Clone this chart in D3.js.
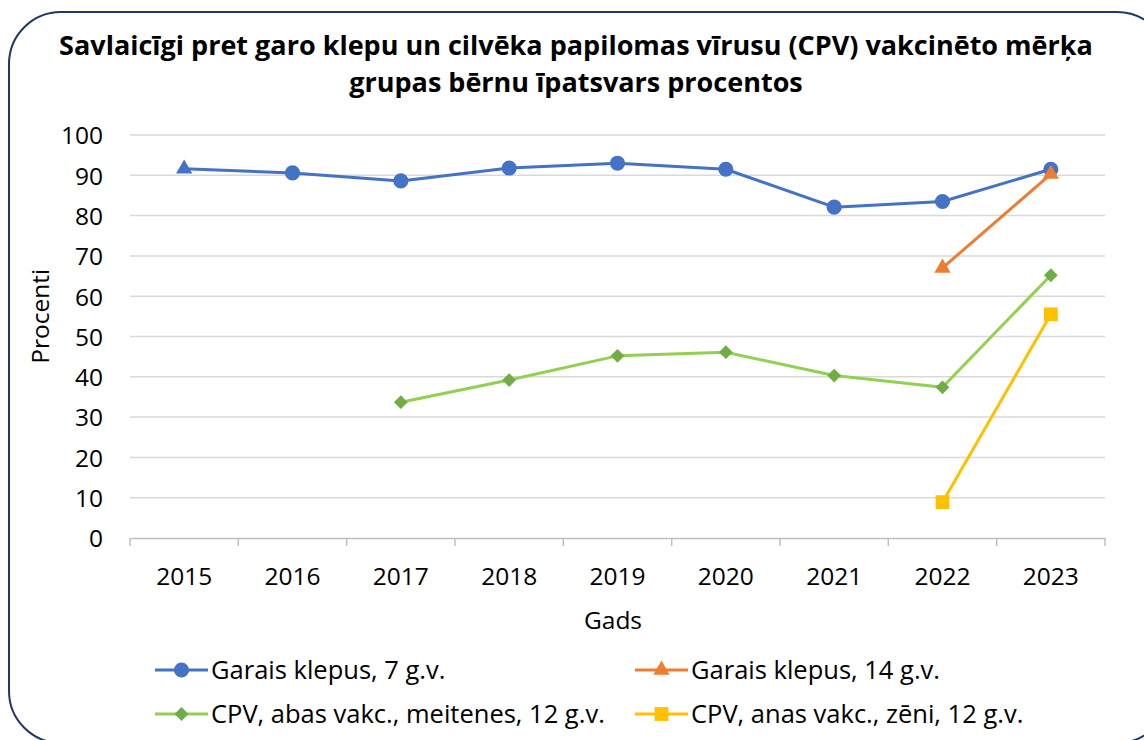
<!DOCTYPE html>
<html>
<head>
<meta charset="utf-8">
<script src="https://cdn.jsdelivr.net/npm/d3@7"></script>
<style>
  body { margin: 0; background: #fff; }
  svg { display: block; font-family: "Open Sans", "Noto Sans", sans-serif; }
</style>
</head>
<body>
<svg id="chart" width="1144" height="740"></svg>
<script>
// chart data
var years = ["2015", "2016", "2017", "2018", "2019", "2020", "2021", "2022", "2023"];
var yTicks = [0, 10, 20, 30, 40, 50, 60, 70, 80, 90, 100];
var garais7 = [91.6, 90.6, 88.6, 91.8, 93.0, 91.5, 82.1, 83.5, 91.5];
var garais14 = [null, null, null, null, null, null, null, 67.0, 90.3];
var cpvMeitenes = [null, null, 33.7, 39.2, 45.2, 46.1, 40.3, 37.4, 65.2];
var cpvZeni = [null, null, null, null, null, null, null, 8.9, 55.5];
var seriesNames = ["Garais klepus, 7 g.v.", "Garais klepus, 14 g.v.",
                   "CPV, abas vakc., meitenes, 12 g.v.", "CPV, anas vakc., zēni, 12 g.v."];

var series = [
  {name: seriesNames[0], values: garais7, line: "#4472C4", fill: "#4472C4", marker: "circle"},
  {name: seriesNames[1], values: garais14, line: "#ED7D31", fill: "#ED7D31", marker: "triangle"},
  {name: seriesNames[2], values: cpvMeitenes, line: "#92D050", fill: "#70AD47", marker: "diamond"},
  {name: seriesNames[3], values: cpvZeni, line: "#FFC000", fill: "#FFC000", marker: "square"}
];
// the first blue point is drawn with a triangle in the original
var markerOverride = {"0-0": "triangle"};

var svg = d3.select("#chart");
var margin = {left: 130, right: 39, top: 135, bottom: 202};
var W = 1144, H = 740;

// frame
svg.append("rect")
  .attr("x", 9).attr("y", 12)
  .attr("width", 1160).attr("height", 731)
  .attr("rx", 52).attr("ry", 52)
  .attr("fill", "none").attr("stroke", "#1F3864").attr("stroke-width", 2);

// title
var title = svg.append("text")
  .attr("text-anchor", "middle")
  .attr("font-weight", "bold")
  .attr("fill", "#000")
  .attr("font-size", 27);
title.append("tspan").attr("x", 576).attr("y", 55)
  .text("Savlaicīgi pret garo klepu un cilvēka papilomas vīrusu (CPV) vakcinēto mērķa");
title.append("tspan").attr("x", 576).attr("y", 92)
  .text("grupas bērnu īpatsvars procentos");

var x = d3.scaleBand().domain(years).range([margin.left, W - margin.right]);
var y = d3.scaleLinear().domain([0, 100]).range([H - margin.bottom, margin.top]);

// gridlines
svg.append("g").selectAll("line").data(yTicks.slice(1)).join("line")
  .attr("x1", margin.left).attr("x2", W - margin.right)
  .attr("y1", function(d){ return y(d); }).attr("y2", function(d){ return y(d); })
  .attr("stroke", "#D9D9D9").attr("stroke-width", 1.5);

// y axis labels
var yAxis = d3.axisLeft(y).tickValues(yTicks).tickSize(0).tickPadding(27);
var yg = svg.append("g").attr("transform", "translate(" + margin.left + ",0)").call(yAxis);
yg.select(".domain").remove();
yg.selectAll("text").attr("font-size", 24.5).attr("fill", "#000").attr("dy", "0.36em")
  .attr("font-family", "'Open Sans', sans-serif");

// x axis
var xAxis = d3.axisBottom(x).tickSize(0).tickPadding(0);
var xg = svg.append("g").attr("transform", "translate(0," + y(0) + ")").call(xAxis);
xg.select(".domain").attr("stroke", "#BFBFBF").attr("stroke-width", 1.5);
xg.selectAll("text").attr("font-size", 24.5).attr("fill", "#000")
  .attr("font-family", "'Open Sans', sans-serif")
  .attr("y", 47).attr("dy", 0);
// category boundary ticks
svg.append("g").selectAll("line").data(years.concat(["end"])).join("line")
  .attr("x1", function(d, i){ return margin.left + i * x.bandwidth(); })
  .attr("x2", function(d, i){ return margin.left + i * x.bandwidth(); })
  .attr("y1", y(0)).attr("y2", y(0) + 8)
  .attr("stroke", "#BFBFBF").attr("stroke-width", 1.5);

// axis titles
svg.append("text")
  .attr("transform", "translate(49," + y(55) + ") rotate(-90)")
  .attr("text-anchor", "middle").attr("font-size", 24.5).attr("fill", "#000")
  .text("Procenti");
svg.append("text")
  .attr("x", 613).attr("y", 629)
  .attr("text-anchor", "middle").attr("font-size", 24.5).attr("fill", "#000")
  .text("Gads");

function markerPath(type, size) {
  var sym = {circle: d3.symbolCircle, triangle: d3.symbolTriangle,
             diamond: d3.symbolSquare, square: d3.symbolSquare}[type];
  return d3.symbol().type(sym).size(size)();
}
var markerSize = {circle: 180, triangle: 115, diamond: 95, square: 190};

var line = d3.line()
  .defined(function(d){ return d.v !== null; })
  .x(function(d){ return x(d.year) + x.bandwidth() / 2; })
  .y(function(d){ return y(d.v); });

series.forEach(function(s, si) {
  var pts = s.values.map(function(v, i){ return {year: years[i], v: v, i: i}; });
  svg.append("path").datum(pts)
    .attr("d", line)
    .attr("fill", "none").attr("stroke", s.line).attr("stroke-width", 3)
    .attr("stroke-linejoin", "round");
  svg.append("g").selectAll("path")
    .data(pts.filter(function(d){ return d.v !== null; }))
    .join("path")
    .attr("d", function(d){
      var m = markerOverride[si + "-" + d.i] || s.marker;
      return markerPath(m, markerSize[m]);
    })
    .attr("transform", function(d){
      var m = markerOverride[si + "-" + d.i] || s.marker;
      var t = "translate(" + (x(d.year) + x.bandwidth() / 2) + "," + y(d.v) + ")";
      if (m === "diamond") t += " rotate(45)";
      return t;
    })
    .attr("fill", s.fill);
});

// legend
var legendPos = [[155, 670], [635, 670], [155, 714], [635, 714]];
series.forEach(function(s, i) {
  var g = svg.append("g").attr("transform", "translate(" + legendPos[i][0] + "," + legendPos[i][1] + ")");
  g.append("line").attr("x1", 0).attr("x2", 53).attr("y1", 0).attr("y2", 0)
    .attr("stroke", s.line).attr("stroke-width", 3);
  g.append("path").attr("d", markerPath(s.marker, markerSize[s.marker]))
    .attr("transform", "translate(26.5,0)" + (s.marker === "diamond" ? " rotate(45)" : ""))
    .attr("fill", s.fill);
  g.append("text").attr("x", 56).attr("y", 9).attr("font-size", 25.5).attr("fill", "#000")
    .text(s.name);
});
</script>
</body>
</html>
